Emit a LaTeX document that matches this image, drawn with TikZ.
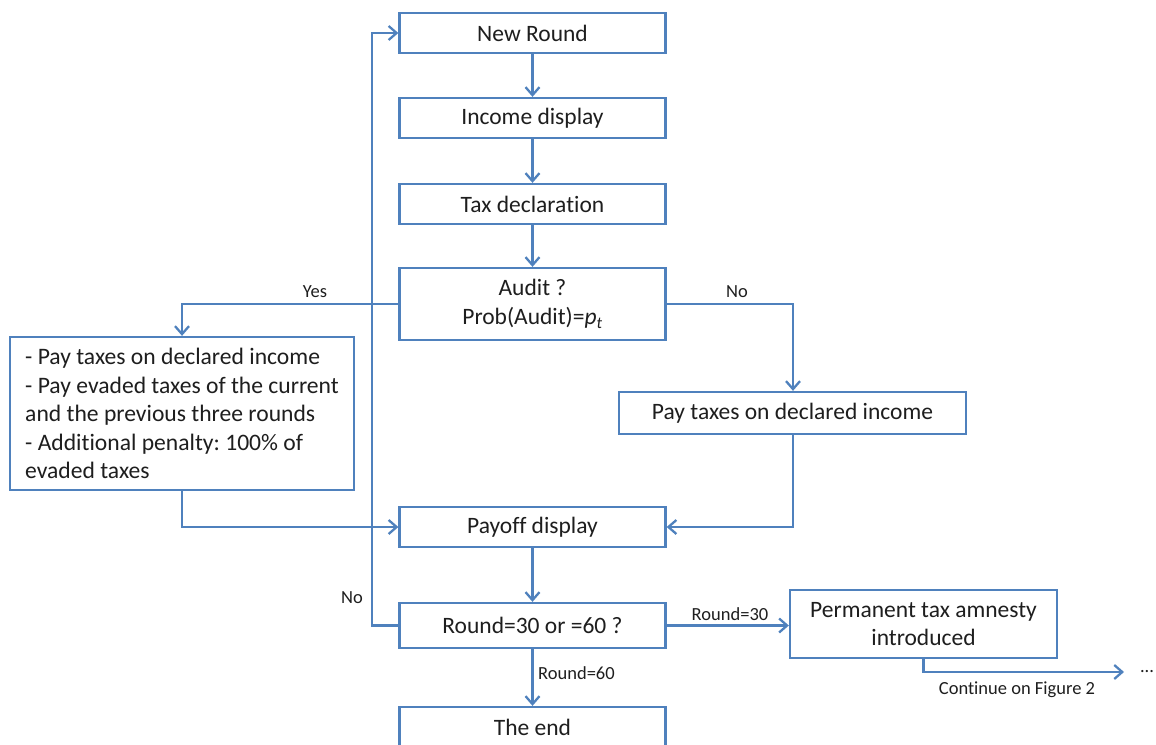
\documentclass[tikz,border=0pt]{standalone}
\usepackage{fontspec}
\setmainfont{Carlito}[Ligatures=NoCommon]
\usetikzlibrary{arrows.meta}
\definecolor{lineblue}{RGB}{79,129,189}
\definecolor{txt}{RGB}{30,30,30}
\frenchspacing
\tikzset{
  box/.style={draw=lineblue, line width=2.3pt, fill=white, minimum width=266pt, minimum height=40pt, inner sep=0pt, font=\fontsize{23.5}{28.5}\selectfont, text=txt, align=center},
  conn/.style={draw=lineblue, line width=2.3pt, -{Straight Barb[length=8pt,width=14pt,line width=2.3pt]}},
  lbl/.style={font=\fontsize{18.5}{21}\selectfont, text=txt, inner sep=0pt}
}
\begin{document}
\begin{tikzpicture}[x=1pt,y=-1pt]
\useasboundingbox (0,0) rectangle (1156,744);
\node[box] (new) at (532.5,33) {New Round};
\node[box] (inc) at (532.5,118) {Income display};
\node[box] (tax) at (532.5,204) {Tax declaration};
\node[box, minimum height=72pt] (aud) at (532.5,304) {Audit ?\\[0pt]Prob(Audit)=$\mathit{p_t}$};
\node[box, minimum width=344pt, minimum height=153pt, align=left, font=\fontsize{23.6}{28.5}\selectfont] (left) at (182,413.5) {- Pay taxes on declared income\\- Pay evaded taxes of the current\\and the previous three rounds\\- Additional penalty: 100\% of\\evaded taxes};
\node[box, minimum width=347pt, minimum height=42pt] (right) at (792.5,413) {Pay taxes on declared income};
\node[box] (pay) at (532.5,527) {Payoff display};
\node[box, minimum height=45pt] (rnd) at (532.5,625.5) {Round=30 or =60 ?};
\node[box, minimum width=267pt, minimum height=68pt] (perm) at (923.5,624) {Permanent tax amnesty\\introduced};
\node[box, minimum height=40pt] (end) at (532.5,727) {The end};

\draw[conn] (new) -- (inc);
\draw[conn] (inc) -- (tax);
\draw[conn] (tax) -- (aud);
\draw[conn] (aud.west) -- (182,304) coordinate (ycorner) -- (left.north);
\draw[conn] (aud.east) -- (793,304) coordinate (ncorner) -- (right.north -| ncorner);
\draw[conn] (left.south) |- (pay.west);
\draw[conn] (right.south -| ncorner) |- (pay.east);
\draw[conn] (pay) -- (rnd);
\draw[conn] (rnd.west) -- (372,625.5) coordinate (loopb) -- (372,33) coordinate (loopt) -- (new.west);
\draw[conn] (rnd.east) -- (perm.west |- rnd.east);
\draw[conn] (rnd.south) -- (end.north);
\coordinate (contend) at (1124,672);
\draw[conn] (perm.south) |- (contend);

\node[lbl] (yes) at (315,292) {Yes};
\node[lbl] (no1) at (737,292) {No};
\node[lbl] (no2) at (352,598) {No};
\node[lbl] (r30) at (730,614) {Round=30};
\node[lbl, anchor=west] (r60) at (538,673) {Round=60};
\node[lbl] (cont) at (1017,690) {Continue on Figure 2};
\node[lbl] (dots) at (1147,672) {...};
\end{tikzpicture}
\end{document}
